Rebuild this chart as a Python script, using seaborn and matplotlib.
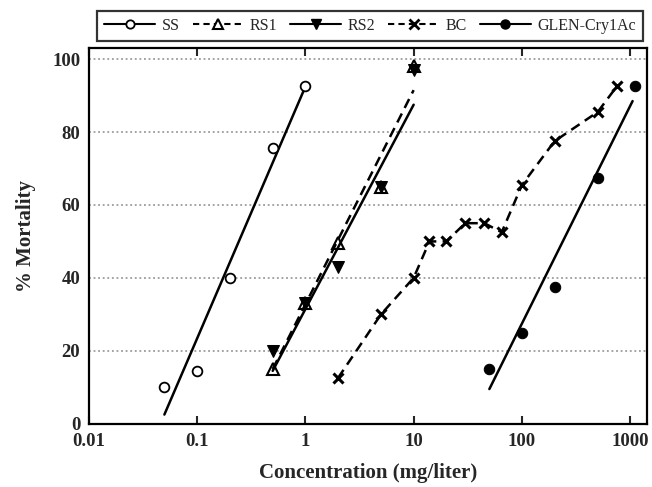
import matplotlib
matplotlib.use("Agg")
import matplotlib.pyplot as plt
from matplotlib.lines import Line2D
from matplotlib.ticker import NullLocator
import seaborn as sns

# Data
ss_conc = [0.05, 0.1, 0.2, 0.5, 1]
ss_mort = [10, 14.5, 40, 75.5, 92.5]
rs1_conc = [0.5, 1, 2, 5, 10]
rs1_mort = [15, 33, 49.5, 65, 98]
rs2_conc = [0.5, 1, 2, 5, 10]
rs2_mort = [20, 33, 43, 65, 97]
bc_conc = [2, 5, 10, 14, 20, 30, 45, 65, 100, 200, 500, 750]
bc_mort = [12.5, 30, 40, 50, 50, 55, 55, 52.5, 65.5, 77.5, 85.5, 92.5]
glen_conc = [50, 100, 200, 500, 1100]
glen_mort = [15, 25, 37.5, 67.5, 92.5]

# fitted probit lines (end points)
ss_fit_x = [0.05, 0.97]
ss_fit_y = [2.5, 91.5]
rs1_fit_x = [0.5, 10]
rs1_fit_y = [15, 91.5]
rs2_fit_x = [0.5, 10]
rs2_fit_y = [14.5, 87.5]
glen_fit_x = [50, 1050]
glen_fit_y = [9.5, 88.5]

labels = ["SS", "RS1", "RS2", "BC", "GLEN-Cry1Ac"]
xticks = [0.01, 0.1, 1, 10, 100, 1000]
xticklabels = ["0.01", "0.1", "1", "10", "100", "1000"]
yticks = [0, 20, 40, 60, 80, 100]

sns.set_style("ticks")
plt.rcParams["font.family"] = ["Liberation Serif", "DejaVu Serif"]

fig = plt.figure(figsize=(6.52, 4.87), dpi=100)
ax = fig.add_axes([0.136, 0.130, 0.856, 0.771])

# fitted lines
sns.lineplot(x=ss_fit_x, y=ss_fit_y, color="black", lw=1.8, ax=ax)
sns.lineplot(x=rs2_fit_x, y=rs2_fit_y, color="black", lw=1.8, ax=ax)
sns.lineplot(x=rs1_fit_x, y=rs1_fit_y, color="black", lw=1.8, ls=(0, (4, 2.5)), ax=ax)
sns.lineplot(x=glen_fit_x, y=glen_fit_y, color="black", lw=1.8, ax=ax)
# BC observed, connected by dashed line
sns.lineplot(x=bc_conc, y=bc_mort, color="black", lw=1.8, ls=(0, (4, 2.5)),
             marker="x", ms=7.5, mew=2.2, mec="black", ax=ax)

# observed points
sns.lineplot(x=ss_conc, y=ss_mort, color="black", ls="none", marker="o", ms=7,
             mfc="white", mec="black", mew=1.3, ax=ax)
sns.lineplot(x=rs2_conc, y=rs2_mort, color="black", ls="none", marker="v", ms=8,
             mfc="black", mec="black", ax=ax)
sns.lineplot(x=rs1_conc, y=rs1_mort, color="black", ls="none", marker="^", ms=8,
             mfc="none", mec="black", mew=1.5, ax=ax)
sns.lineplot(x=glen_conc, y=glen_mort, color="black", ls="none", marker="o", ms=7.5,
             mfc="black", mec="black", ax=ax)

ax.set_xscale("log")
ax.set_xlim(0.01, 1420)
ax.set_ylim(0, 103)
ax.set_xticks(xticks)
ax.set_xticklabels(xticklabels)
ax.xaxis.set_minor_locator(NullLocator())
ax.set_yticks(yticks)
ax.tick_params(axis="x", which="major", direction="in", top=True, length=6, width=1.5,
               pad=7, labelsize=13.5)
ax.tick_params(axis="y", length=0, pad=6, labelsize=13.5)
for lab in ax.get_xticklabels() + ax.get_yticklabels():
    lab.set_fontweight("bold")
ax.yaxis.grid(True, color="#8a8a8a", ls=(0, (1.2, 1.8)), lw=1.1)
ax.xaxis.grid(False)
for sp in ax.spines.values():
    sp.set_visible(True)
    sp.set_color("black")
    sp.set_linewidth(1.6)

ax.set_xlabel("Concentration (mg/liter)", fontsize=15, fontweight="bold", labelpad=9)
ax.set_ylabel("% Mortality", fontsize=15, fontweight="bold", labelpad=12)

handles = [
    Line2D([], [], color="black", lw=1.5, marker="o", ms=6, mfc="white", mew=1.3),
    Line2D([], [], color="black", lw=1.5, ls=(0, (3, 2)), marker="^", ms=7, mfc="white", mew=1.5),
    Line2D([], [], color="black", lw=1.5, marker="v", ms=7, mfc="black"),
    Line2D([], [], color="black", lw=1.5, ls=(0, (3, 2)), marker="x", ms=7, mew=2),
    Line2D([], [], color="black", lw=1.5, marker="o", ms=6.5, mfc="black"),
]
leg = fig.legend(handles, labels, ncol=5, mode="expand", loc="lower left",
                 bbox_to_anchor=(0.149, 0.916, 0.837, 0.068), frameon=True,
                 fancybox=False, edgecolor="black", fontsize=11.5, handlelength=3.2,
                 handletextpad=0.4, borderpad=0.45, borderaxespad=0)
leg.get_frame().set_linewidth(1.6)

fig.savefig("out.png", dpi=100)
